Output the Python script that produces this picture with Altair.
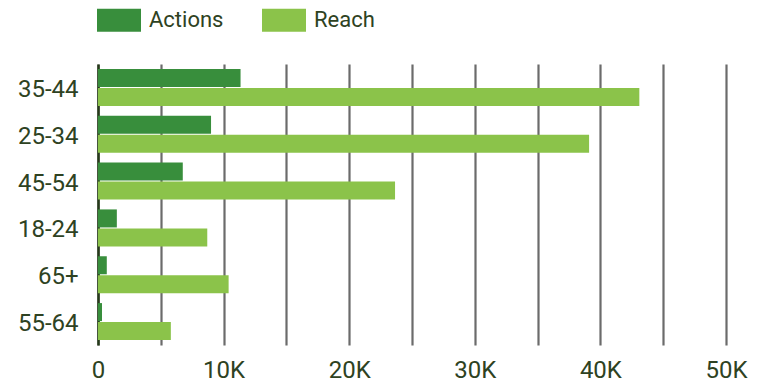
import altair as alt
import pandas as pd

categories = ["35-44", "25-34", "45-54", "18-24", "65+", "55-64"]
actions = [11350, 9000, 6750, 1500, 700, 320]
reach = [43100, 39100, 23650, 8700, 10400, 5800]
series = ["Actions", "Reach"]
colors = ["#388e3c", "#8bc34a"]
x_ticks = [0, 5000, 10000, 15000, 20000, 25000, 30000, 35000, 40000, 45000, 50000]

rows = []
for c, a, r in zip(categories, actions, reach):
    rows.append({"age": c, "series": "Actions", "value": a})
    rows.append({"age": c, "series": "Reach", "value": r})
df = pd.DataFrame(rows)

text_color = "#2e4222"

chart = alt.Chart(df).mark_bar().encode(
    y=alt.Y("age:N", sort=categories, title=None,
            scale=alt.Scale(paddingInner=0.21, paddingOuter=0.105),
            axis=alt.Axis(labelFontSize=24, labelColor=text_color, labelFont="Roboto",
                          ticks=False, labelPadding=20, labelOffset=2.5,
                          domainColor="#263a1a", domainWidth=2.5, grid=False)),
    yOffset=alt.YOffset("series:N", sort=series,
                        scale=alt.Scale(paddingInner=0.05, paddingOuter=0)),
    x=alt.X("value:Q", title=None,
            scale=alt.Scale(domain=[0, 50000], nice=False),
            axis=alt.Axis(values=x_ticks, domain=False, ticks=False,
                          labelExpr="datum.value % 10000 == 0 ? (datum.value == 0 ? '0' : (datum.value/1000) + 'K') : ''",
                          labelFontSize=24, labelColor=text_color, labelFont="Roboto",
                          labelPadding=13, gridColor="#6b6b6b", gridWidth=2.2,
                          gridOpacity=1, labelFlush=False)),
    color=alt.Color("series:N", sort=series,
                    scale=alt.Scale(domain=series, range=colors),
                    legend=alt.Legend(title=None, orient="none", legendX=-1, legendY=-66,
                                      direction="horizontal",
                                      symbolType="M-1,-0.52H1V0.52H-1Z",
                                      symbolSize=1936, symbolStrokeWidth=0,
                                      symbolOpacity=1,
                                      labelFontSize=22, labelColor=text_color,
                                      labelFont="Roboto", labelOffset=8,
                                      columnPadding=38)),
).properties(
    width=628, height=281,
    autosize=alt.AutoSizeParams(type="none"),
    padding={"left": 90, "top": 56, "right": 40, "bottom": 40},
).configure_view(stroke=None).configure_axis(domainCap="butt")

chart.save("out.html", embed_options={"renderer": "svg", "actions": False})
